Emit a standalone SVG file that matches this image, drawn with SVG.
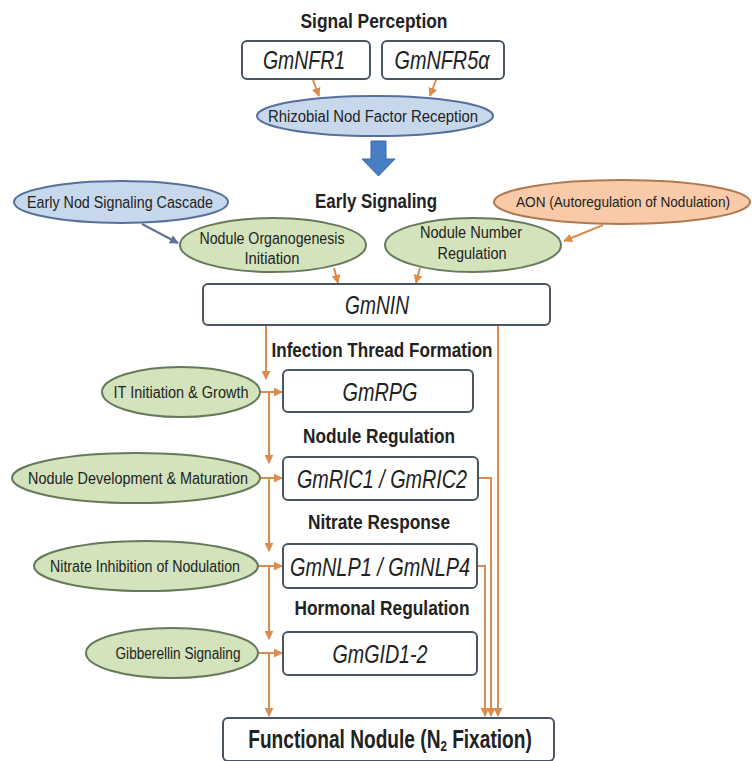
<svg xmlns="http://www.w3.org/2000/svg" width="752" height="761" viewBox="0 0 752 761">
<style>
text{font-family:"Liberation Sans Narrow","Liberation Sans",Arial,sans-serif;fill:#222;text-anchor:middle}
.h{font-weight:bold;font-size:20px}
.g{font-style:italic;font-size:25px}
.e{font-size:16px}
.box{fill:#fff;stroke:#4a5563;stroke-width:2}
.grn{fill:#d3e4bd;stroke:#66795a;stroke-width:2}
.blu{fill:#c8d8ec;stroke:#55709a;stroke-width:2}
.org{fill:#f8caa8;stroke:#b07a50;stroke-width:2}
.c{fill:none;stroke:#d98c4d;stroke-width:2}
.cb{fill:none;stroke:#5a7396;stroke-width:2}
</style>
<defs>
<marker id="ao" viewBox="0 0 10 10" refX="9" refY="5" markerWidth="4.5" markerHeight="4.5" orient="auto" markerUnits="strokeWidth"><path d="M0,0L10,5L0,10z" fill="#d98c4d"/></marker>
<marker id="ab" viewBox="0 0 10 10" refX="9" refY="5" markerWidth="4.5" markerHeight="4.5" orient="auto" markerUnits="strokeWidth"><path d="M0,0L10,5L0,10z" fill="#5a7396"/></marker>
</defs>

<g id="connectors">
<path class="c" d="M313,80L319,96" marker-end="url(#ao)"/>
<path class="c" d="M436,80L430,96" marker-end="url(#ao)"/>
<path class="cb" d="M142,224L178,243" marker-end="url(#ab)"/>
<path class="c" d="M603,225L564,241" marker-end="url(#ao)"/>
<path class="c" d="M334,268L338,283" marker-end="url(#ao)"/>
<path class="c" d="M420,268L416,283" marker-end="url(#ao)"/>
<path class="c" d="M266,325L266,379" marker-end="url(#ao)"/>
<path class="c" d="M269,392L269,463" marker-end="url(#ao)"/>
<path class="c" d="M269,478L269,551" marker-end="url(#ao)"/>
<path class="c" d="M269,566L269,639" marker-end="url(#ao)"/>
<path class="c" d="M269,653L269,716" marker-end="url(#ao)"/>
<path class="c" d="M260,392L282,392" marker-end="url(#ao)"/>
<path class="c" d="M260,478L282,478" marker-end="url(#ao)"/>
<path class="c" d="M258,566L282,566" marker-end="url(#ao)"/>
<path class="c" d="M258,653L282,653" marker-end="url(#ao)"/>
<path class="c" d="M498,325L498,716" marker-end="url(#ao)"/>
<path class="c" d="M478,478L491,478L491,716" marker-end="url(#ao)"/>
<path class="c" d="M477,566L485,566L485,716" marker-end="url(#ao)"/>
<path d="M371,141L386,141L386,159L395,159L378.5,176L362,159L371,159Z" fill="#4a7ec4" stroke="#3a66a8" stroke-width="1"/>
</g>

<g id="title-signal"><text class="h" x="374" y="28" textLength="147" lengthAdjust="spacingAndGlyphs">Signal Perception</text></g>
<g id="GmNFR1"><rect class="box" x="242" y="41" width="128" height="38" rx="5"/><text class="g" x="304" y="69" textLength="82" lengthAdjust="spacingAndGlyphs">GmNFR1</text></g>
<g id="GmNFR5a"><rect class="box" x="382" y="41" width="122" height="38" rx="5"/><text class="g" x="442" y="69" textLength="95" lengthAdjust="spacingAndGlyphs">GmNFR5α</text></g>
<g id="nod-factor"><ellipse class="blu" cx="375" cy="116" rx="118" ry="20"/><text class="e" x="373" y="122" textLength="210" lengthAdjust="spacingAndGlyphs">Rhizobial Nod Factor Reception</text></g>

<g id="title-early"><text class="h" x="376" y="208" textLength="122" lengthAdjust="spacingAndGlyphs">Early Signaling</text></g>
<g id="early-nod"><ellipse class="blu" cx="121" cy="202" rx="107" ry="21"/><text class="e" x="120" y="208" textLength="186" lengthAdjust="spacingAndGlyphs">Early Nod Signaling Cascade</text></g>
<g id="aon"><ellipse class="org" cx="622" cy="202" rx="128" ry="22"/><text class="e" x="623" y="207" style="font-size:15px" textLength="214" lengthAdjust="spacingAndGlyphs">AON (Autoregulation of Nodulation)</text></g>
<g id="organogenesis"><ellipse class="grn" cx="273" cy="245" rx="93" ry="27"/><text class="e" x="272" y="244" textLength="145" lengthAdjust="spacingAndGlyphs">Nodule Organogenesis</text><text class="e" x="272" y="264" textLength="55" lengthAdjust="spacingAndGlyphs">Initiation</text></g>
<g id="number-reg"><ellipse class="grn" cx="473" cy="245" rx="88" ry="27"/><text class="e" x="471" y="238" textLength="102" lengthAdjust="spacingAndGlyphs">Nodule Number</text><text class="e" x="472" y="259" textLength="69" lengthAdjust="spacingAndGlyphs">Regulation</text></g>
<g id="GmNIN"><rect class="box" x="203" y="284" width="347" height="41" rx="5"/><text class="g" x="377" y="314" textLength="64" lengthAdjust="spacingAndGlyphs">GmNIN</text></g>

<g id="title-it"><text class="h" x="382" y="357" textLength="221" lengthAdjust="spacingAndGlyphs">Infection Thread Formation</text></g>
<g id="it-growth"><ellipse class="grn" cx="181" cy="392" rx="79" ry="25"/><text class="e" x="181" y="398" textLength="135" lengthAdjust="spacingAndGlyphs">IT Initiation &amp; Growth</text></g>
<g id="GmRPG"><rect class="box" x="283" y="370" width="190" height="42" rx="5"/><text class="g" x="380" y="401" textLength="75" lengthAdjust="spacingAndGlyphs">GmRPG</text></g>

<g id="title-nodreg"><text class="h" x="379" y="443" textLength="152" lengthAdjust="spacingAndGlyphs">Nodule Regulation</text></g>
<g id="nod-dev"><ellipse class="grn" cx="136" cy="478" rx="124" ry="25"/><text class="e" x="138" y="484" textLength="220" lengthAdjust="spacingAndGlyphs">Nodule Development &amp; Maturation</text></g>
<g id="GmRIC"><rect class="box" x="283" y="457" width="195" height="43" rx="5"/><text class="g" x="382" y="488" textLength="170" lengthAdjust="spacingAndGlyphs">GmRIC1 / GmRIC2</text></g>

<g id="title-nitrate"><text class="h" x="379" y="529" textLength="142" lengthAdjust="spacingAndGlyphs">Nitrate Response</text></g>
<g id="nitrate-inh"><ellipse class="grn" cx="146" cy="566" rx="112" ry="25"/><text class="e" x="145" y="572" textLength="190" lengthAdjust="spacingAndGlyphs">Nitrate Inhibition of Nodulation</text></g>
<g id="GmNLP"><rect class="box" x="283" y="544" width="194" height="44" rx="5"/><text class="g" x="380" y="576" textLength="180" lengthAdjust="spacingAndGlyphs">GmNLP1 / GmNLP4</text></g>

<g id="title-hormonal"><text class="h" x="382" y="615" textLength="175" lengthAdjust="spacingAndGlyphs">Hormonal Regulation</text></g>
<g id="gibberellin"><ellipse class="grn" cx="172" cy="653" rx="86" ry="25"/><text class="e" x="178" y="659" textLength="125" lengthAdjust="spacingAndGlyphs">Gibberellin Signaling</text></g>
<g id="GmGID"><rect class="box" x="283" y="632" width="194" height="43" rx="5"/><text class="g" x="380" y="663" textLength="95" lengthAdjust="spacingAndGlyphs">GmGID1-2</text></g>

<g id="functional-nodule"><rect class="box" x="223" y="718" width="331" height="43" rx="5"/><text transform="translate(390,748) scale(0.765,1)" x="0" y="0" style="font-weight:bold;font-size:25px">Functional Nodule (N<tspan style="font-size:15px" baseline-shift="-25%">2</tspan> Fixation)</text></g>
</svg>
